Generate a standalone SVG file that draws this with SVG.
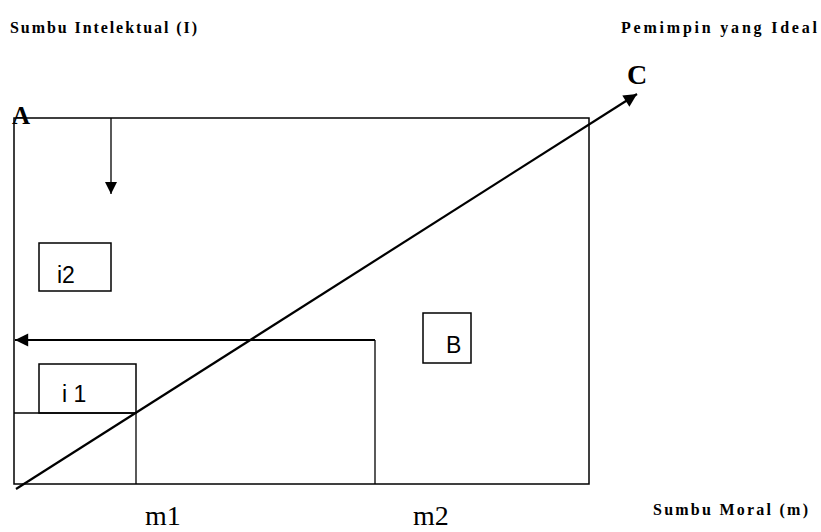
<svg xmlns="http://www.w3.org/2000/svg" width="821" height="532" viewBox="0 0 821 532">
<style>
.lbl{font-family:"Liberation Serif","Times New Roman",serif;font-weight:bold;fill:#000}
.big{font-family:"Liberation Serif","Times New Roman",serif;fill:#000}
.box{fill:none;stroke:#000;stroke-width:1.5}
.ln{stroke:#000;stroke-width:1.3;fill:none}
.ar{stroke:#000;stroke-width:2.2;fill:none}
.bt{font-family:"Liberation Sans",Arial,sans-serif;fill:#000;font-size:23px}
</style>
<defs>
<marker id="ah" viewBox="0 0 10 10" refX="10" refY="5" markerWidth="7" markerHeight="6" markerUnits="strokeWidth" orient="auto">
<path d="M0,0 L10,5 L0,10 z" fill="#000"/>
</marker>
<marker id="ah2" viewBox="0 0 10 10" refX="10" refY="5" markerWidth="15" markerHeight="12" markerUnits="userSpaceOnUse" orient="auto">
<path d="M0,0 L10,5 L0,10 z" fill="#000"/>
</marker>
</defs>
<g id="labels">
<text class="lbl" x="10" y="33" font-size="16" textLength="187" lengthAdjust="spacing">Sumbu Intelektual (I)</text>
<text class="lbl" x="621" y="33" font-size="16" textLength="196" lengthAdjust="spacing">Pemimpin yang Ideal</text>
<text class="lbl" x="653" y="515" font-size="16" textLength="155" lengthAdjust="spacing">Sumbu Moral (m)</text>
<text class="big" x="145" y="525" font-size="28">m1</text>
<text class="big" x="413" y="525" font-size="28">m2</text>
</g>
<g id="nodeA"><text class="lbl" x="12" y="124" font-size="25">A</text></g>
<g id="nodeC"><text class="lbl" x="627" y="84" font-size="28">C</text></g>
<g id="frame">
<rect class="box" x="14" y="118" width="575" height="366"/>
</g>
<g id="nodeI2">
<rect class="box" x="39" y="243" width="72" height="48"/>
<text class="bt" x="57" y="283">i2</text>
</g>
<g id="nodeI1">
<rect class="box" x="39" y="364" width="97" height="49"/>
<text class="bt" x="62" y="402">i 1</text>
</g>
<g id="nodeB">
<rect class="box" x="423" y="313" width="48" height="50"/>
<text class="bt" x="446" y="353">B</text>
</g>
<g id="connectors">
<line class="ln" x1="14" y1="413" x2="136" y2="413"/>
<line class="ln" x1="136" y1="413" x2="136" y2="484"/>
<line class="ln" x1="375" y1="340" x2="375" y2="484"/>
<line class="ar" x1="375" y1="340" x2="15" y2="340" marker-end="url(#ah)"/>
<line class="ln" x1="111" y1="118" x2="111" y2="194" marker-end="url(#ah2)"/>
<line class="ar" x1="16" y1="489" x2="637" y2="94" marker-end="url(#ah)"/>
</g>
</svg>
